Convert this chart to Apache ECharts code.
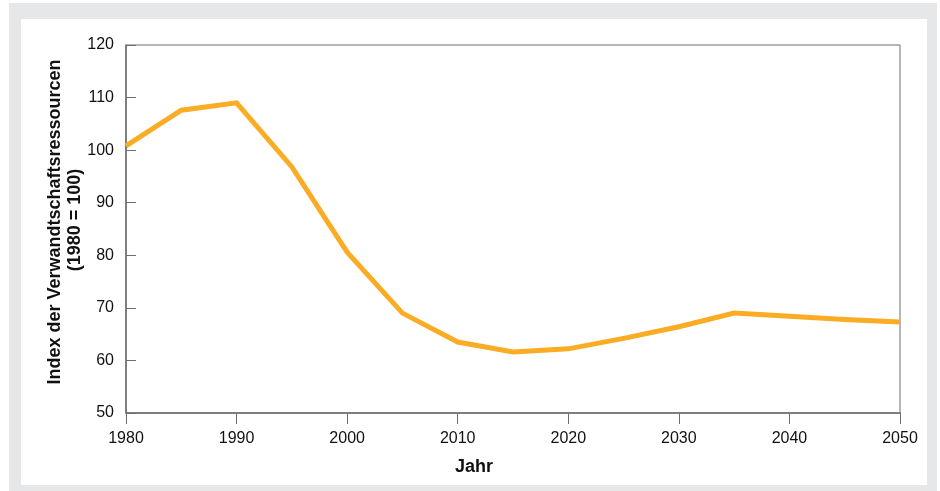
<!DOCTYPE html>
<html>
<head>
<meta charset="utf-8">
<script src="https://cdn.jsdelivr.net/npm/echarts@6/dist/echarts.min.js"></script>
<style>
  html, body { margin: 0; padding: 0; background: #ffffff; }
  #frame { position: absolute; left: 9px; top: 3px; width: 906px; height: 466px;
           border-style: solid; border-color: #e6e7e8;
           border-width: 16px 10px 8px 12px; background: #fff; }
  #chart { position: absolute; left: 0; top: 0; width: 940px; height: 491px; }
</style>
</head>
<body>
<div id="frame"></div>
<div id="chart"></div>
<script>
const years = [1980, 1985, 1990, 1995, 2000, 2005, 2010, 2015, 2020, 2025, 2030, 2035, 2040, 2045, 2050];
const indexValues = [100.8, 107.6, 109.0, 96.8, 80.6, 69.0, 63.5, 61.6, 62.2, 64.2, 66.4, 69.0, 68.4, 67.8, 67.3];
const xTicks = [1980, 1990, 2000, 2010, 2020, 2030, 2040, 2050];
const yTicks = [50, 60, 70, 80, 90, 100, 110, 120];
const yTitle1 = 'Index der Verwandtschaftsressourcen';
const yTitle2 = '(1980 = 100)';
const xTitle = 'Jahr';

const chart = echarts.init(document.getElementById('chart'), null, { renderer: 'canvas' });
const font = '"Liberation Sans", Arial, sans-serif';
const axisColor = '#6d6e71';
const textColor = '#111111';

chart.setOption({
  animation: false,
  backgroundColor: 'transparent',
  grid: { left: 126, right: 40, top: 45, bottom: 78, show: true, borderColor: axisColor, borderWidth: 1 },
  xAxis: {
    type: 'value', min: xTicks[0], max: xTicks[xTicks.length - 1], interval: 10,
    axisLine: { show: true, lineStyle: { color: axisColor, width: 1.5 } },
    axisTick: { show: true, inside: false, length: 11, lineStyle: { color: axisColor } },
    axisLabel: { color: textColor, fontSize: 16, fontFamily: font, margin: 18, formatter: v => String(v) },
    splitLine: { show: false }
  },
  yAxis: {
    type: 'value', min: yTicks[0], max: yTicks[yTicks.length - 1], interval: 10,
    axisLine: { show: true, lineStyle: { color: axisColor, width: 1.5 } },
    axisTick: { show: true, inside: true, length: 10, lineStyle: { color: axisColor } },
    axisLabel: { color: textColor, fontSize: 16, fontFamily: font, margin: 12, formatter: v => String(v) },
    splitLine: { show: false }
  },
  graphic: [
    { type: 'text', x: 55, y: 222, rotation: Math.PI / 2,
      style: { text: yTitle1, fill: textColor, font: 'bold 18px ' + font, textAlign: 'center', textVerticalAlign: 'middle' } },
    { type: 'text', x: 75, y: 220, rotation: Math.PI / 2,
      style: { text: yTitle2, fill: textColor, font: 'bold 18px ' + font, textAlign: 'center', textVerticalAlign: 'middle' } },
    { type: 'text', x: 474, y: 467,
      style: { text: xTitle, fill: textColor, font: 'bold 18px ' + font, textAlign: 'center', textVerticalAlign: 'middle' } }
  ],
  series: [{
    type: 'line',
    data: years.map((y, i) => [y, indexValues[i]]),
    showSymbol: false,
    lineStyle: { color: '#faac24', width: 5, join: 'miter' },
    itemStyle: { color: '#faac24' }
  }]
});
</script>
</body>
</html>
